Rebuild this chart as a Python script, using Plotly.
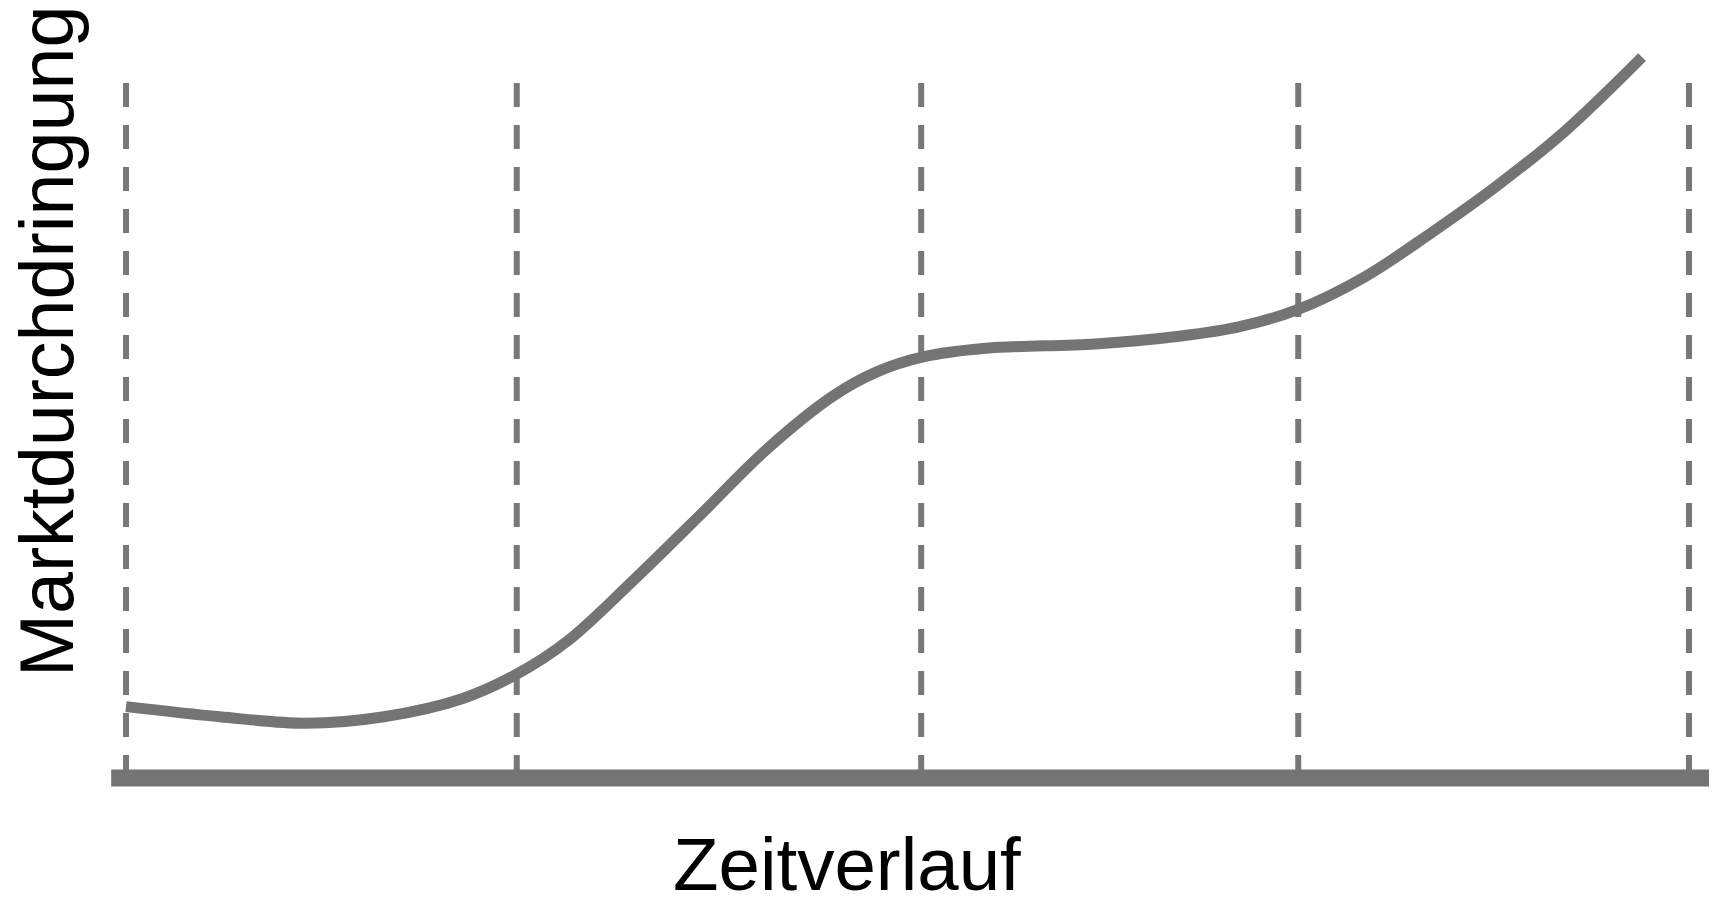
import plotly.graph_objects as go

# Data (time in phase units, market penetration in %)
zeit = [0.0, 0.24, 0.46, 0.66, 0.86, 1.0, 1.13, 1.30, 1.47, 1.64, 1.81, 1.92, 2.04,
        2.20, 2.48, 2.70, 2.85, 3.0, 3.17, 3.34, 3.51, 3.68, 3.88]
durchdringung = [9.9, 8.5, 7.6, 8.5, 11.0, 14.4, 19.0, 27.5, 36.5, 45.6, 53.0, 56.3, 58.4,
                 59.6, 60.2, 61.3, 62.6, 65.0, 69.5, 75.6, 82.2, 89.6, 100.0]
phasen_grenzen = [0.0, 1.0, 2.035, 3.0, 4.0]
grenzen_hoehe = 96.4

x_label = "Zeitverlauf"
y_label = "Marktdurchdringung"

grau = "#747474"

W, H = 1701, 884

fig = go.Figure()
fig.add_trace(go.Scatter(x=zeit, y=durchdringung, mode="lines",
                         line=dict(color=grau, width=11, shape="spline", smoothing=1.0),
                         hoverinfo="skip", showlegend=False))

shapes = []
for g in phasen_grenzen:
    shapes.append(dict(type="line", xref="x", yref="y", x0=g, x1=g, y0=grenzen_hoehe, y1=0,
                       line=dict(color="#787878", width=6, dash="24px,18px"), layer="below"))
shapes.append(dict(type="line", xref="x", yref="y", x0=-0.038, x1=4.2, y0=0, y1=0,
                   line=dict(color=grau, width=17)))

fig.update_layout(
    width=W, height=H,
    margin=dict(l=0, r=0, t=0, b=0),
    paper_bgcolor="white", plot_bgcolor="white",
    shapes=shapes,
    xaxis=dict(range=[-0.302, 4.0512], visible=False, fixedrange=True),
    yaxis=dict(range=[-15.81, 106.8], visible=False, fixedrange=True),
    annotations=[
        dict(text=x_label, xref="paper", yref="paper", x=839 / W, y=1 - 856 / H,
             xanchor="center", yanchor="middle", showarrow=False,
             font=dict(family="Liberation Sans, Arial", size=74.5, color="black")),
        dict(text=y_label, xref="paper", yref="paper", x=39 / W, y=1 - 334 / H,
             xanchor="center", yanchor="middle", showarrow=False, textangle=-90,
             font=dict(family="Liberation Sans, Arial", size=75.5, color="black")),
    ],
)

fig.write_html("out.html")
